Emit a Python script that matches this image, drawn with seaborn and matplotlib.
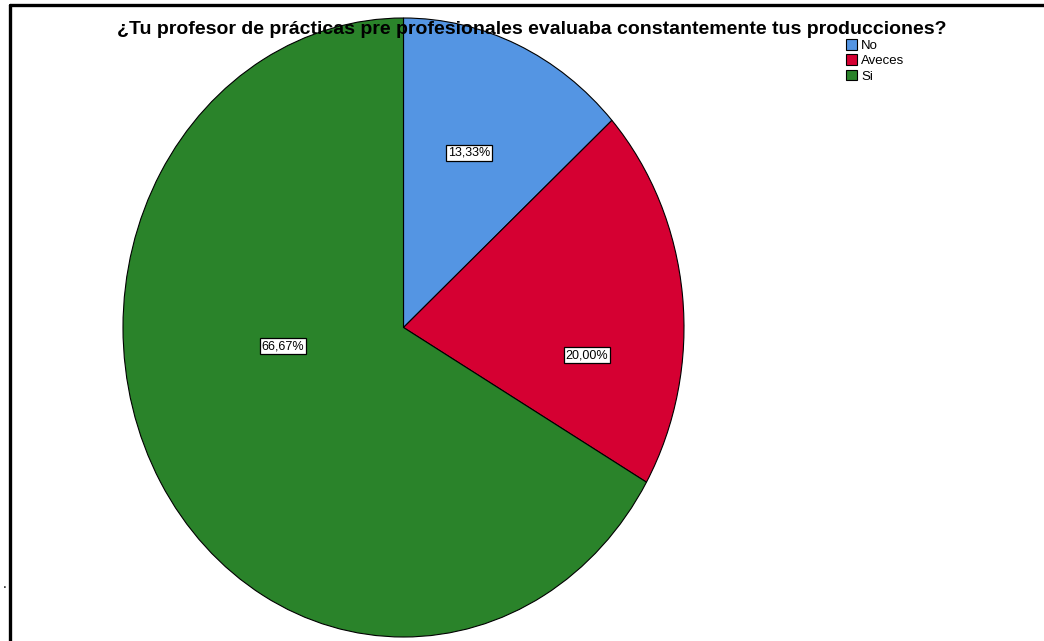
import numpy as np
import matplotlib.pyplot as plt
import seaborn as sns
from matplotlib.lines import Line2D

# data
categories = ['No', 'Aveces', 'Si']
percentages = [13.33, 20.00, 66.67]
label_texts = ['13,33%', '20,00%', '66,67%']
title = '¿Tu profesor de prácticas pre profesionales evaluaba constantemente tus producciones?'

# label placement (SPSS puts them its own way), in pie data units
label_pos = [(0.233, 0.564), (0.654, -0.089), (-0.43, -0.06)]

sns.set_theme(style='white')
plt.rcParams['font.family'] = ['Liberation Sans', 'DejaVu Sans']
plt.rcParams['text.color'] = 'black'
colors = sns.color_palette(['#5495E3', '#D50032', '#2A832A'])

W, H = 1044, 641
fig = plt.figure(figsize=(W / 100, H / 100), dpi=100)
fig.patch.set_facecolor('white')

# pie area in pixels: x 123..684, y 18..637
ax = fig.add_axes([123 / W, (H - 637) / H, 561 / W, 619 / H])
wedges, _ = ax.pie(percentages, colors=colors, startangle=90, counterclock=False,
                   wedgeprops={'edgecolor': 'black', 'linewidth': 0.8})
ax.set_aspect('auto')
ax.set_xlim(-1, 1)
ax.set_ylim(-1, 1)
ax.axis('off')

for txt, (x, y) in zip(label_texts, label_pos):
    ax.text(x, y, txt, ha='center', va='center', fontsize=9, color='black',
            bbox=dict(boxstyle='square,pad=0.15', facecolor='white', edgecolor='black', linewidth=0.9))

# title sits over the top of the pie
ax.text(532 / W, 1 - 30 / H, title, transform=fig.transFigure, ha='center', va='center',
        fontsize=14, fontweight='bold', color='black', zorder=10, clip_on=False)

leg = fig.legend(wedges, categories, loc='upper left', bbox_to_anchor=(846 / W, 1 - 39 / H),
                 frameon=False, fontsize=9.5, handlelength=0.85, handleheight=0.85,
                 handletextpad=0.3, labelspacing=0.2, borderpad=0, borderaxespad=0,
                 labelcolor='black')
for h in leg.legend_handles:
    h.set_edgecolor('black')
    h.set_linewidth(0.8)

# frame lines on top and left of the picture
fig.add_artist(Line2D([10 / W, 1], [1 - 5 / H, 1 - 5 / H], color='black', linewidth=2.4,
                      transform=fig.transFigure))
fig.add_artist(Line2D([10 / W, 10 / W], [0, 1 - 5 / H], color='black', linewidth=2.4,
                      transform=fig.transFigure))
fig.text(3 / W, 1 - 591 / H, '.', fontsize=10, ha='left', va='bottom')

fig.savefig('out.png', dpi=100, facecolor='white')
